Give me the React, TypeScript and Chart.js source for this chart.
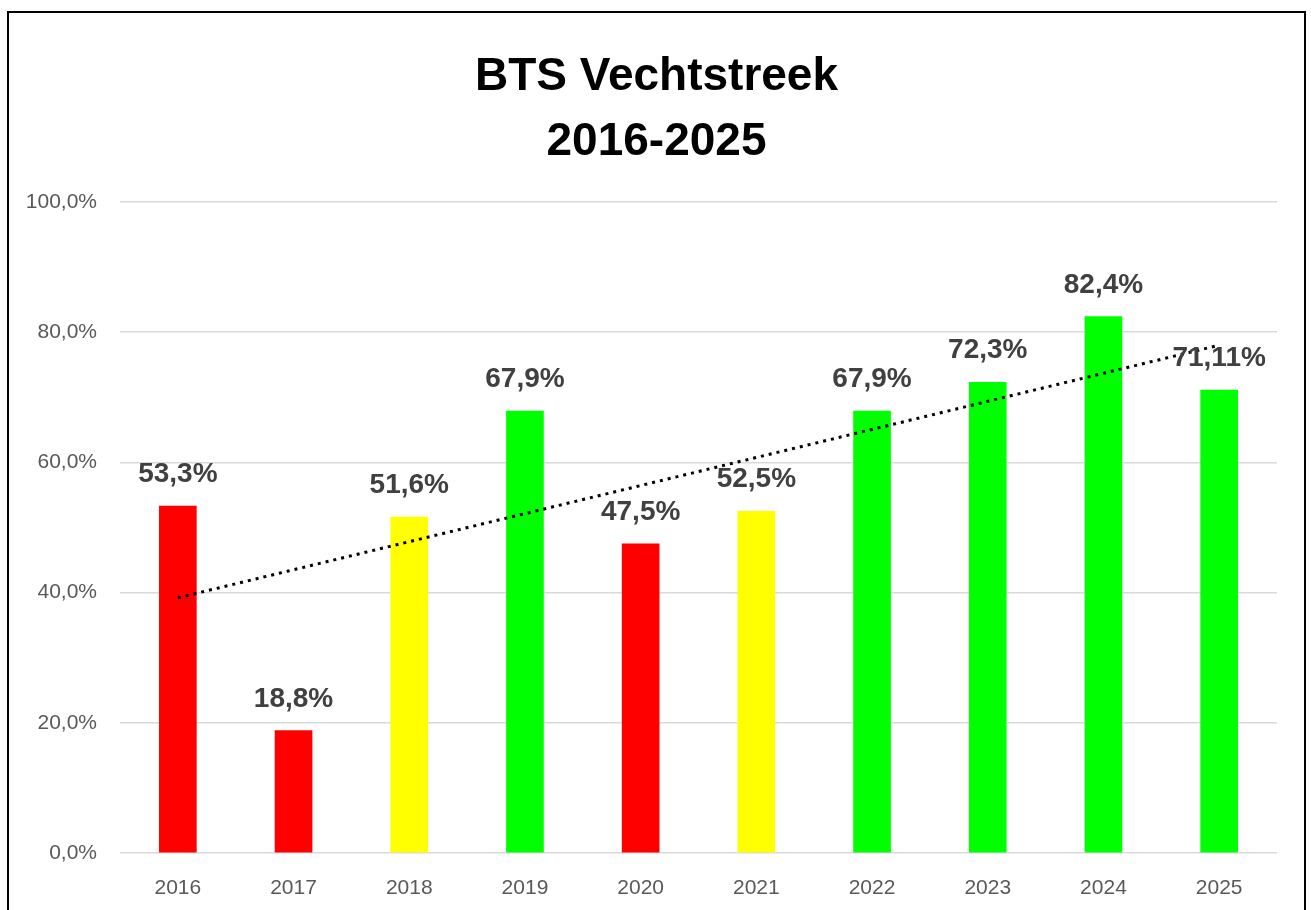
import React, { useEffect, useRef } from "react";
import { Chart, registerables } from "chart.js";

Chart.register(...registerables);

const years = ["2016", "2017", "2018", "2019", "2020", "2021", "2022", "2023", "2024", "2025"];
const scores = [53.3, 18.8, 51.6, 67.9, 47.5, 52.5, 67.9, 72.3, 82.4, 71.11];
const barColors = ["#ff0000", "#ff0000", "#ffff00", "#00ff00", "#ff0000", "#ffff00", "#00ff00", "#00ff00", "#00ff00", "#00ff00"];
const trendValues = [39.2, null, null, null, null, null, null, null, null, 78.0];
const titleLines = ["BTS Vechtstreek", "2016-2025"];
const yTicks = [0, 20, 40, 60, 80, 100];

const FONT = "'Liberation Sans', Arial, sans-serif";

const fmt = (v: number) => String(v).replace(".", ",") + "%";

const overlayPlugin = {
  id: "overlay",
  afterDatasetsDraw(chart: any) {
    const ctx = chart.ctx;
    ctx.save();
    const meta = chart.getDatasetMeta(0);
    ctx.font = `bold 28px ${FONT}`;
    ctx.fillStyle = "#404040";
    ctx.textAlign = "center";
    ctx.textBaseline = "alphabetic";
    meta.data.forEach((bar: any, i: number) => {
      ctx.fillText(fmt(scores[i]), bar.x, bar.y - 24);
    });
    ctx.font = `bold 46px ${FONT}`;
    ctx.fillStyle = "#000000";
    const cx = chart.width / 2;
    ctx.fillText(titleLines[0], cx, 77);
    ctx.fillText(titleLines[1], cx, 142);
    ctx.restore();
  },
};

export default function App() {
  const ref = useRef<HTMLCanvasElement | null>(null);
  useEffect(() => {
    if (!ref.current) return;
    const chart = new Chart(ref.current, {
      type: "bar",
      data: {
        labels: years,
        datasets: [
          {
            type: "bar",
            data: scores,
            backgroundColor: barColors,
            borderWidth: 0,
            barThickness: 37,
            order: 1,
          } as any,
          {
            type: "line",
            data: trendValues,
            borderColor: "#000000",
            borderWidth: 3,
            borderDash: [3, 5],
            pointRadius: 0,
            spanGaps: true,
            fill: false,
            order: 0,
          } as any,
        ],
      },
      options: {
        responsive: false,
        animation: false,
        layout: { padding: { top: 189, left: 0, right: 27, bottom: 14 } },
        plugins: {
          legend: { display: false },
          tooltip: { enabled: false },
          title: { display: false },
        },
        scales: {
          x: {
            afterFit(scale: any) {
              scale.height = 47;
            },
            grid: { display: false, drawTicks: false },
            border: { display: false },
            ticks: {
              color: "#595959",
              font: { family: FONT, size: 21 },
              padding: 23,
              maxRotation: 0,
              autoSkip: false,
            },
          },
          y: {
            min: 0,
            max: 100,
            afterFit(scale: any) {
              scale.width = 111;
            },
            afterBuildTicks(scale: any) {
              scale.ticks = yTicks.map((v) => ({ value: v }));
            },
            grid: { color: "#d9d9d9", lineWidth: 1.5, drawTicks: false },
            border: { display: false },
            ticks: {
              color: "#595959",
              font: { family: FONT, size: 21 },
              padding: 23,
              callback: (v: any) => Number(v).toFixed(1).replace(".", ",") + "%",
            },
          },
        },
      },
      plugins: [overlayPlugin],
    });
    return () => chart.destroy();
  }, []);

  return (
    <div
      style={{
        position: "absolute",
        left: 7,
        top: 11,
        width: 1299,
        height: 905,
        border: "2px solid #000",
        boxSizing: "border-box",
        background: "#fff",
      }}
    >
      <canvas ref={ref} width={1295} height={901} style={{ display: "block" }} />
    </div>
  );
}
